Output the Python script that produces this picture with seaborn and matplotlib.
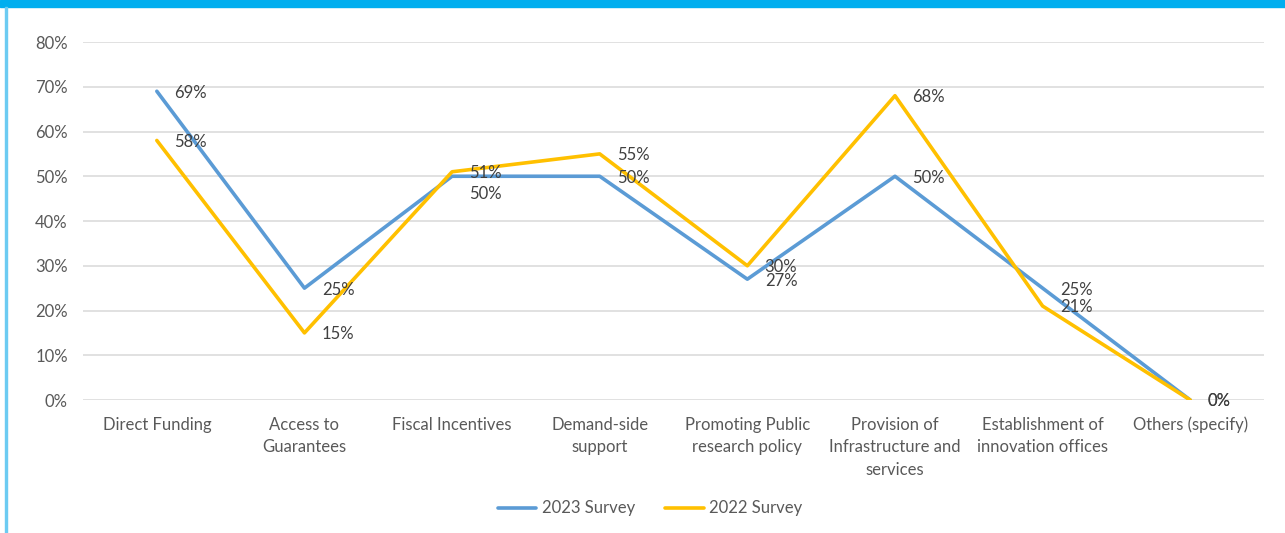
import matplotlib
matplotlib.use("Agg")
import matplotlib.pyplot as plt
import seaborn as sns
import pandas as pd
from matplotlib.lines import Line2D
from matplotlib.patches import Rectangle

categories = [
    "Direct Funding",
    "Access to\nGuarantees",
    "Fiscal Incentives",
    "Demand-side\nsupport",
    "Promoting Public\nresearch policy",
    "Provision of\nInfrastructure and\nservices",
    "Establishment of\ninnovation offices",
    "Others (specify)",
]
survey_2023 = [69, 25, 50, 50, 27, 50, 25, 0]
survey_2022 = [58, 15, 51, 55, 30, 68, 21, 0]
series_names = ["2023 Survey", "2022 Survey"]
y_ticks = [0, 10, 20, 30, 40, 50, 60, 70, 80]

# vertical nudges (points) for labels that would otherwise collide
label_dy_2023 = [-1, -1, -13, -1, -1, -1, -1, -1]
label_dy_2022 = [-1, -1, -1, -1, -1, -1, -1, -1]

BLUE = "#5B9BD5"
GOLD = "#FFC000"
TEXT = "#595959"
LABEL = "#404040"
FS = 12

sns.set_theme(style="white")
plt.rcParams["font.family"] = ["Lato", "DejaVu Sans"]

df = pd.DataFrame({
    "category": categories * 2,
    "value": survey_2023 + survey_2022,
    "series": [series_names[0]] * len(categories) + [series_names[1]] * len(categories),
})
df["pos"] = list(range(len(categories))) * 2

fig = plt.figure(figsize=(12.85, 5.33), dpi=100)
ax = fig.add_axes([0.0646, 0.2495, 0.9191, 0.6717])

sns.lineplot(data=df, x="pos", y="value", hue="series", hue_order=series_names,
             palette=[BLUE, GOLD], linewidth=2.6, sort=False, ax=ax, legend=False)

ax.set_xlim(-0.5, len(categories) - 0.5)
ax.set_ylim(0, 80)
ax.set_yticks(y_ticks)
ax.set_yticklabels([f"{v}%" for v in y_ticks])
ax.set_xticks(range(len(categories)))
ax.set_xticklabels(categories, linespacing=1.5)
ax.tick_params(axis="y", length=0, pad=11, labelsize=FS, labelcolor=TEXT)
ax.tick_params(axis="x", length=0, pad=12, labelsize=FS, labelcolor=TEXT)
ax.set_xlabel("")
ax.set_ylabel("")
ax.grid(axis="y", color="#D9D9D9", linewidth=1.1)
ax.set_axisbelow(True)
for s in ax.spines.values():
    s.set_visible(False)

for vals, dys in ((survey_2023, label_dy_2023), (survey_2022, label_dy_2022)):
    for i, (v, dy) in enumerate(zip(vals, dys)):
        ax.annotate(f"{v}%", xy=(i, v), xytext=(12.5, dy), textcoords="offset points",
                    ha="left", va="center", fontsize=FS, color=LABEL)

handles = [Line2D([0], [0], color=BLUE, lw=2.6, solid_capstyle="round"),
           Line2D([0], [0], color=GOLD, lw=2.6, solid_capstyle="round")]
fig.legend(handles, series_names, loc="center", bbox_to_anchor=(0.506, 0.046),
           ncol=2, frameon=False, fontsize=FS, labelcolor=TEXT,
           handlelength=2.3, handletextpad=0.35, columnspacing=1.8)

# frame decoration: top band and left rule
fig.patches.append(Rectangle((0, 1 - 7 / 533), 1, 7 / 533, transform=fig.transFigure,
                             color="#00AEEF", zorder=0))
fig.patches.append(Rectangle((5 / 1285, 0), 2 / 1285, 1 - 7 / 533, transform=fig.transFigure,
                             color="#6CCBF2", zorder=0))

fig.savefig("out.png", dpi=100)
